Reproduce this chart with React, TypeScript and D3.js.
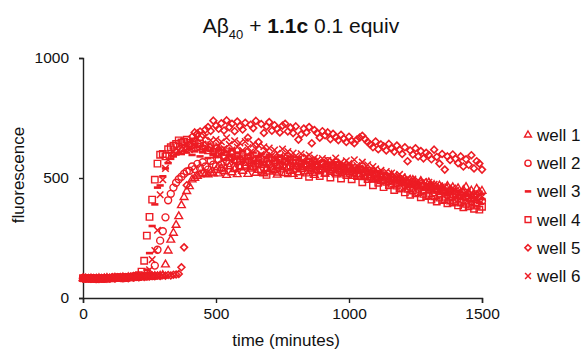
import React, { useEffect, useRef } from 'react';
import * as d3 from 'd3';

// sampling interval of the plate reader (minutes)
const step = 10;

const wellNames = ['well 1', 'well 2', 'well 3', 'well 4', 'well 5', 'well 6'];
const xTicks = [0, 500, 1000, 1500];
const yTicks = [0, 500, 1000];

// fluorescence readings, one value every 10 min from 0 to 1500
const well1 = [
  82, 80, 79, 81, 78, 80, 82, 79, 81, 83,
  80, 82, 84, 81, 83, 85, 82, 86, 84, 87,
  85, 88, 86, 89, 87, 90, 88, 91, 89, 92,
  95, 139, 197, 242, 271, 304, 340, 386, 420, 445,
  465, 493, 500, 508, 514, 520, 516, 514, 522, 518,
  532, 518, 541, 527, 512, 548, 523, 536, 515, 544,
  529, 551, 516, 538, 546, 521, 533, 555, 519, 540,
  526, 547, 531, 513, 552, 535, 520, 543, 529, 516,
  548, 523, 537, 556, 518, 541, 530, 512, 546, 527,
  535, 517, 549, 526, 540, 521, 534, 545, 514, 531,
  524, 539, 508, 528, 515, 532, 503, 521, 511, 496,
  517, 500, 511, 489, 506, 495, 512, 484, 499, 490,
  478, 497, 483, 470, 491, 476, 465, 487, 472, 460,
  481, 463, 470, 452, 468, 459, 445, 466, 450, 461,
  441, 457, 436, 450, 462, 438, 447, 430, 455, 440,
  446,
];
const well2 = [
  84, 81, 83, 80, 82, 79, 83, 81, 80, 84,
  82, 85, 83, 86, 84, 82, 87, 85, 88, 86,
  89, 87, 90, 92, 89, 93, 91, 135, 201, 239,
  278, 336, 407, 434, 460, 480, 495, 505, 518, 527,
  530, 548, 537, 559, 541, 566, 548, 535, 572, 556,
  549, 578, 557, 540, 571, 562, 585, 546, 569, 553,
  582, 551, 566, 591, 548, 574, 560, 579, 542, 568,
  556, 584, 565, 547, 576, 552, 570, 587, 549, 562,
  574, 545, 560, 580, 553, 566, 541, 571, 556, 536,
  562, 548, 570, 539, 555, 566, 531, 551, 544, 528,
  546, 529, 540, 519, 535, 548, 514, 530, 509, 524,
  513, 498, 520, 492, 508, 486, 503, 494, 478, 497,
  485, 470, 489, 463, 477, 468, 455, 474, 448, 462,
  452, 468, 441, 456, 435, 449, 460, 428, 446, 421,
  437, 415, 430, 409, 424, 418, 403, 421, 398, 412,
  404,
];
const well3 = [
  80, 83, 81, 79, 82, 80, 84, 82, 79, 81,
  83, 81, 85, 83, 86, 84, 82, 86, 88, 85,
  88, 91, 89, 93, 118, 187, 300, 390, 460, 469,
  507, 540, 562, 580, 590, 598, 605, 600, 612, 606,
  622, 596, 611, 630, 590, 607, 618, 583, 613, 600,
  587, 619, 598, 576, 610, 592, 621, 580, 603, 589,
  612, 578, 597, 584, 606, 571, 592, 601, 566, 588,
  597, 569, 585, 574, 593, 561, 580, 572, 589, 558,
  575, 586, 553, 571, 562, 580, 549, 568, 559, 545,
  570, 548, 562, 541, 557, 566, 538, 552, 545, 531,
  556, 530, 543, 522, 548, 527, 536, 515, 530, 521,
  508, 526, 499, 517, 494, 510, 502, 486, 505, 480,
  498, 474, 490, 467, 482, 471, 458, 479, 462, 452,
  470, 448, 461, 440, 456, 437, 450, 429, 444, 433,
  420, 441, 414, 430, 409, 426, 402, 418, 407, 396,
  412,
];
const well4 = [
  83, 80, 82, 84, 81, 79, 82, 80, 83, 81,
  84, 82, 86, 84, 87, 85, 83, 88, 86, 89,
  92, 95, 110, 155, 260, 338, 410, 493, 560, 597,
  600, 590, 620, 628, 635, 642, 657, 648, 652, 660,
  646, 638, 652, 630, 644, 622, 636, 615, 628, 608,
  622, 600, 615, 593, 608, 586, 601, 578, 595, 572,
  590, 566, 584, 548, 578, 560, 572, 530, 566, 513,
  560, 540, 574, 526, 556, 548, 568, 520, 552, 535,
  560, 512, 548, 530, 554, 505, 544, 525, 550, 508,
  540, 522, 546, 502, 536, 518, 540, 498, 530, 512,
  536, 495, 524, 508, 518, 482, 512, 496, 505, 470,
  498, 480, 490, 462, 484, 470, 476, 450, 468, 456,
  460, 440, 455, 430, 448, 436, 440, 420, 434, 425,
  428, 410, 424, 402, 418, 408, 412, 395, 406, 398,
  402, 386, 398, 378, 392, 382, 388, 372, 385, 368,
  380,
];
const well5 = [
  81, 84, 82, 80, 83, 81, 79, 82, 84, 80,
  83, 85, 82, 86, 84, 87, 85, 83, 88, 86,
  89, 87, 90, 88, 92, 90, 93, 91, 94, 92,
  95, 93, 96, 94, 97, 98, 100, 128, 211, 470,
  640, 672, 690, 685, 694, 680, 702, 712, 696, 739,
  718, 705, 728, 698, 740, 712, 726, 695, 735, 716,
  702, 730, 668, 722, 708, 738, 650, 725, 688, 715,
  733, 697, 720, 705, 690, 718, 726, 694, 710, 687,
  715, 660, 682, 706, 690, 712, 645, 700, 688, 668,
  695, 678, 690, 662, 684, 670, 658, 680, 664, 650,
  672, 655, 645, 660, 668, 676, 662, 650, 640, 628,
  652, 620, 640, 632, 615, 642, 624, 610, 635, 618,
  600, 628, 570, 615, 598, 624, 590, 612, 582, 605,
  596, 578, 618, 588, 560, 600, 535, 590, 575, 598,
  580, 562, 590, 548, 578, 555, 595, 540, 570, 560,
  535,
];
const well6 = [
  80, 82, 79, 83, 81, 84, 80, 82, 85, 81,
  84, 86, 83, 87, 85, 88, 84, 87, 89, 86,
  90, 88, 93, 91, 96, 118, 160, 198, 282, 430,
  493, 540, 575, 598, 610, 622, 615, 630, 624, 640,
  618, 650, 631, 664, 625, 642, 672, 635, 657, 628,
  660, 634, 651, 623, 668, 640, 617, 655, 629, 646,
  615, 652, 627, 608, 641, 620, 636, 599, 630, 612,
  625, 594, 617, 603, 589, 621, 598, 610, 583, 604,
  592, 577, 601, 570, 588, 596, 565, 583, 574, 559,
  581, 563, 574, 552, 570, 583, 548, 566, 556, 572,
  561, 545, 576, 552, 537, 566, 542, 555, 529, 548,
  538, 519, 532, 511, 527, 504, 521, 513, 498, 515,
  505, 489, 500, 481, 496, 475, 490, 470, 486, 466,
  482, 461, 474, 455, 468, 447, 463, 452, 440, 458,
  449, 432, 446, 425, 441, 419, 437, 428, 414, 433,
  422,
];

const wells = [well1, well2, well3, well4, well5, well6];

const RED = '#ed1c24';
const FONT = 'Liberation Sans, Arial, Helvetica, sans-serif';

// custom marker shapes (Excel style dash and cross)
const symbolDash = {
  draw(ctx: any, size: number) {
    const w = Math.sqrt(size) * 0.6;
    ctx.moveTo(-w, 0);
    ctx.lineTo(w, 0);
  },
};
const symbolCross = {
  draw(ctx: any, size: number) {
    const w = Math.sqrt(size) * 0.48;
    ctx.moveTo(-w, -w);
    ctx.lineTo(w, w);
    ctx.moveTo(w, -w);
    ctx.lineTo(-w, w);
  },
};

const markerTypes: any[] = [
  d3.symbolTriangle,
  d3.symbolCircle,
  symbolDash,
  d3.symbolSquare,
  d3.symbolDiamond2,
  symbolCross,
];
const markerSizes = [26, 38, 36, 42, 30, 46];
const markerWidths = [1.4, 1.4, 2.6, 1.4, 1.6, 1.5];

const App = () => {
  const svgRef = useRef<SVGSVGElement>(null);

  useEffect(() => {
    const svg = d3.select(svgRef.current);
    svg.selectAll('*').remove();

    const x = d3.scaleLinear().domain([0, 1500]).range([83, 482]);
    const y = d3.scaleLinear().domain([0, 1000]).range([298, 58]);

    // axes
    const xAxis = svg.append('g')
      .attr('transform', `translate(0,${y(0)})`)
      .call(d3.axisBottom(x).tickValues(xTicks).tickFormat(d3.format('d')).tickSizeOuter(0).tickSize(5).tickPadding(5));
    const yAxis = svg.append('g')
      .attr('transform', `translate(${x(0)},0)`)
      .call(d3.axisLeft(y).tickValues(yTicks).tickFormat(d3.format('d')).tickSizeOuter(0).tickSize(4).tickPadding(10));

    [xAxis, yAxis].forEach(a => {
      a.select('.domain').attr('stroke', '#222').attr('stroke-width', 1.4);
      a.selectAll('.tick line').attr('stroke', '#222').attr('stroke-width', 1.4);
      a.selectAll('.tick text')
        .attr('fill', '#111')
        .style('font-family', FONT)
        .style('font-size', '15.5px');
    });

    // data markers
    const plot = svg.append('g');
    wells.forEach((vals, k) => {
      const sym = d3.symbol().type(markerTypes[k]).size(markerSizes[k]);
      plot.append('g')
        .selectAll('path')
        .data(vals)
        .enter().append('path')
        .attr('d', sym() as string)
        .attr('transform', (d, i) => `translate(${x(i * step)},${y(d)})`)
        .attr('fill', 'none')
        .attr('stroke', RED)
        .attr('stroke-width', markerWidths[k]);
    });

    // legend
    const legend = svg.append('g');
    wellNames.forEach((name, k) => {
      const ly = 135 + k * 28.2;
      const sym = d3.symbol().type(markerTypes[k]).size(markerSizes[k] * 0.8);
      legend.append('path')
        .attr('d', sym() as string)
        .attr('transform', `translate(528,${ly})`)
        .attr('fill', 'none')
        .attr('stroke', RED)
        .attr('stroke-width', markerWidths[k]);
      legend.append('text')
        .attr('x', 537)
        .attr('y', ly)
        .attr('dy', '0.35em')
        .style('font-family', FONT)
        .style('font-size', '17px')
        .attr('fill', '#111')
        .text(name);
    });

    // axis titles
    svg.append('text')
      .attr('x', 286)
      .attr('y', 346)
      .attr('text-anchor', 'middle')
      .style('font-family', FONT)
      .style('font-size', '17px')
      .attr('fill', '#111')
      .text('time (minutes)');

    svg.append('text')
      .attr('transform', 'translate(24,175) rotate(-90)')
      .attr('text-anchor', 'middle')
      .style('font-family', FONT)
      .style('font-size', '17px')
      .attr('fill', '#111')
      .text('fluorescence');

    // title: Aβ40 + 1.1c 0.1 equiv
    const title = svg.append('text')
      .attr('x', 301)
      .attr('y', 33)
      .attr('text-anchor', 'middle')
      .style('font-family', FONT)
      .style('font-size', '21px')
      .attr('fill', '#111');
    title.append('tspan').text('Aβ');
    title.append('tspan').attr('dy', 6).style('font-size', '13px').text('40');
    title.append('tspan').attr('dy', -6).text(' + ');
    title.append('tspan').style('font-weight', 'bold').text('1.1c');
    title.append('tspan').text(' 0.1 equiv');
  }, []);

  return (
    <svg
      ref={svgRef}
      width={587}
      height={354}
      style={{ position: 'absolute', left: 0, top: 0, background: '#fff' }}
    />
  );
};

export default App;
